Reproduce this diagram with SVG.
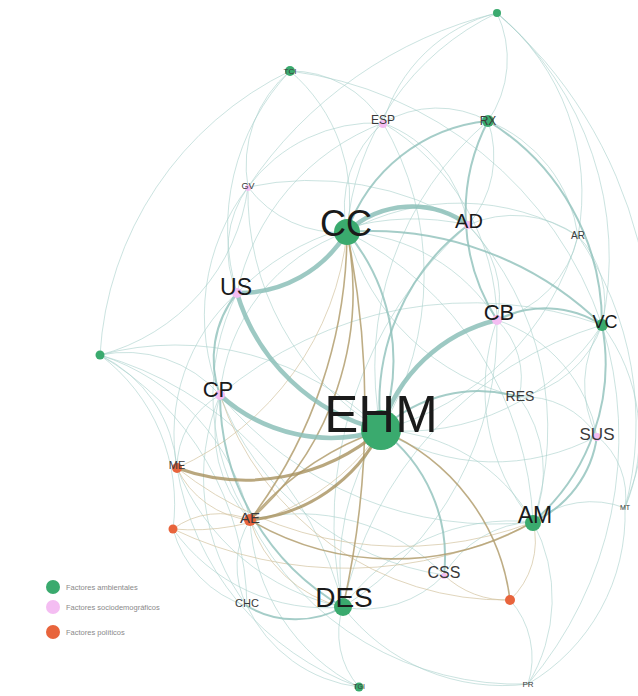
<svg xmlns="http://www.w3.org/2000/svg" width="638" height="696" viewBox="0 0 638 696">
<style>
.bg{fill:#ffffff}
path{fill:none;stroke-linecap:round}
.e{stroke:#a9d0cb;stroke-width:1;opacity:.6}
.em{stroke:#8fc0ba;stroke-width:2;opacity:.8}
.et{stroke:#8cbfb9;stroke-width:4.5;opacity:.85}
.bl{stroke:#d3c39f;stroke-width:1;opacity:.7}
.b{stroke:#b39f70;stroke-width:1.6;opacity:.85}
.bt{stroke:#a8915e;stroke-width:3;opacity:.8}
.g{fill:#3aaa6e}
.p{fill:#f4bdf2}
.o{fill:#e8643c}
text{font-family:"Liberation Sans",Arial,sans-serif;text-anchor:middle}
.L{fill:#1a1a1a}
.s{fill:#3a3a3a}
.lg{fill:#8a8a8a;font-size:7.5px;text-anchor:start}
</style>
<rect class="bg" width="638" height="696"/>
<g id="connectors">
<!-- thin teal -->
<path class="e" d="M100,355 A137,137 0 0 1 177,468"/>
<path class="e" d="M100,355 A223,223 0 0 1 250,520"/>
<path class="e" d="M100,355 A346,346 0 0 1 343,607"/>
<path class="e" d="M100,355 A295,295 0 0 1 247,606"/>
<path class="e" d="M100,355 A186,186 0 0 1 173,529"/>
<path class="e" d="M100,355 A290,290 0 0 1 381,430"/>
<path class="e" d="M100,355 A337,337 0 0 1 290,71"/>
<path class="e" d="M100,355 A125,125 0 0 1 220,395"/>
<path class="e" d="M100,355 A200,200 0 0 0 248,187"/>
<path class="e" d="M290,71 A107,107 0 0 1 383,123"/>
<path class="e" d="M290,71 A228,228 0 0 0 237,293"/>
<path class="e" d="M290,71 A170,170 0 0 1 347,232"/>
<path class="e" d="M290,71 A380,380 0 0 1 602,325"/>
<path class="e" d="M290,71 A123,123 0 0 0 248,187"/>
<path class="e" d="M497,13 A158,158 0 0 0 383,123"/>
<path class="e" d="M497,13 A263,263 0 0 0 347,232"/>
<path class="e" d="M497,13 A321,321 0 0 1 602,325"/>
<path class="e" d="M497,13 A233,233 0 0 1 578,236"/>
<path class="e" d="M497,13 A108,108 0 0 1 488,121"/>
<path class="e" d="M497,13 A450,450 0 0 1 625,508"/>
<path class="e" d="M497,13 A420,420 0 0 0 248,187"/>
<path class="e" d="M383,123 A111,111 0 0 0 347,232"/>
<path class="e" d="M383,123 A158,158 0 0 0 248,187"/>
<path class="e" d="M383,123 A105,105 0 0 1 488,121"/>
<path class="e" d="M383,123 A233,233 0 0 0 237,293"/>
<path class="e" d="M383,123 A133,133 0 0 1 468,225"/>
<path class="e" d="M383,123 A233,233 0 0 1 497,320"/>
<path class="e" d="M383,123 A300,300 0 0 1 381,430"/>
<path class="e" d="M248,187 A112,112 0 0 0 347,232"/>
<path class="e" d="M248,187 A107,107 0 0 0 237,293"/>
<path class="e" d="M248,187 A276,276 0 0 0 381,430"/>
<path class="e" d="M248,187 A210,210 0 0 0 220,395"/>
<path class="e" d="M248,187 A300,300 0 0 1 468,225"/>
<path class="e" d="M578,236 A111,111 0 0 0 468,225"/>
<path class="e" d="M578,236 A231,231 0 0 0 347,232"/>
<path class="e" d="M578,236 A111,111 0 0 1 497,320"/>
<path class="e" d="M578,236 A95,95 0 0 1 602,325"/>
<path class="e" d="M578,236 A145,145 0 0 0 488,121"/>
<path class="e" d="M578,236 A277,277 0 0 1 381,430"/>
<path class="e" d="M578,236 A330,330 0 0 1 625,508"/>
<path class="e" d="M602,325 A110,110 0 0 1 519,397"/>
<path class="e" d="M602,325 A111,111 0 0 0 597,436"/>
<path class="e" d="M602,325 A390,390 0 0 0 220,395"/>
<path class="e" d="M602,325 A185,185 0 0 1 625,508"/>
<path class="e" d="M602,325 A375,375 0 0 0 343,607"/>
<path class="e" d="M602,325 A380,380 0 0 1 528,684"/>
<path class="e" d="M597,436 A216,216 0 0 1 381,430"/>
<path class="e" d="M597,436 A86,86 0 0 0 519,397"/>
<path class="e" d="M597,436 A78,78 0 0 1 625,508"/>
<path class="e" d="M597,436 A150,150 0 0 0 497,320"/>
<path class="e" d="M625,508 A93,93 0 0 0 533,522"/>
<path class="e" d="M625,508 A196,196 0 0 1 528,684"/>
<path class="e" d="M528,684 A162,162 0 0 0 533,522"/>
<path class="e" d="M528,684 A201,201 0 0 1 343,607"/>
<path class="e" d="M528,684 A86,86 0 0 0 510,600"/>
<path class="e" d="M528,684 A300,300 0 0 1 250,520"/>
<path class="e" d="M359,687 A81,81 0 0 1 343,607"/>
<path class="e" d="M359,687 A142,142 0 0 1 247,606"/>
<path class="e" d="M359,687 A198,198 0 0 1 250,520"/>
<path class="e" d="M359,687 A281,281 0 0 1 177,468"/>
<path class="e" d="M444,575 A107,107 0 0 1 533,522"/>
<path class="e" d="M444,575 A110,110 0 0 1 343,607"/>
<path class="e" d="M444,575 A200,200 0 0 0 250,520"/>
<path class="e" d="M444,575 A284,284 0 0 1 220,395"/>
<path class="e" d="M519,397 A80,80 0 0 0 497,320"/>
<path class="e" d="M519,397 A126,126 0 0 1 533,522"/>
<path class="e" d="M519,397 A232,232 0 0 1 347,232"/>
<path class="e" d="M497,320 A99,99 0 0 0 468,225"/>
<path class="e" d="M497,320 A206,206 0 0 0 533,522"/>
<path class="e" d="M497,320 A332,332 0 0 1 343,607"/>
<path class="e" d="M468,225 A246,246 0 0 0 237,293"/>
<path class="e" d="M468,225 A397,397 0 0 0 343,607"/>
<path class="e" d="M468,225 A300,300 0 0 1 533,522"/>
<path class="e" d="M237,293 A228,228 0 0 0 250,520"/>
<path class="e" d="M237,293 A189,189 0 0 0 177,468"/>
<path class="e" d="M220,395 A83,83 0 0 0 177,468"/>
<path class="e" d="M220,395 A129,129 0 0 0 250,520"/>
<path class="e" d="M220,395 A212,212 0 0 0 247,606"/>
<path class="e" d="M220,395 A356,356 0 0 0 533,522"/>
<path class="e" d="M177,468 A227,227 0 0 0 343,607"/>
<path class="e" d="M173,529 A186,186 0 0 0 343,607"/>
<path class="e" d="M173,529 A109,109 0 0 0 247,606"/>
<path class="e" d="M250,520 A86,86 0 0 0 247,606"/>
<path class="e" d="M533,522 A207,207 0 0 0 343,607"/>
<path class="e" d="M381,430 A180,180 0 0 1 533,522"/>
<path class="e" d="M347,232 A187,187 0 0 1 497,320"/>
<path class="e" d="M347,232 A190,190 0 0 0 220,395"/>
<path class="e" d="M347,232 A341,341 0 0 1 533,522"/>
<path class="e" d="M488,121 A323,323 0 0 0 381,430"/>
<path class="e" d="M488,121 A105,105 0 0 1 468,225"/>
<path class="e" d="M381,430 A235,235 0 0 0 602,325"/>
<path class="e" d="M381,430 A250,250 0 0 0 343,607"/>
<!-- brown thin -->
<path class="bl" d="M173,529 A77,77 0 0 1 250,520"/>
<path class="bl" d="M177,468 A91,91 0 0 0 250,520"/>
<path class="bl" d="M381,430 A227,227 0 0 1 173,529"/>
<path class="bl" d="M347,232 A291,291 0 0 1 177,468"/>
<path class="bl" d="M510,600 A80,80 0 0 0 533,522"/>
<path class="bl" d="M510,600 A90,90 0 0 1 444,575"/>
<path class="bl" d="M250,520 A128,128 0 0 0 343,607"/>
<path class="bl" d="M177,468 A362,362 0 0 0 533,522"/>
<path class="bl" d="M173,529 A400,400 0 0 0 533,522"/>
<path class="bl" d="M220,395 A300,300 0 0 0 510,600"/>
<!-- medium teal -->
<path class="em" d="M381,430 A142,142 0 0 1 519,397"/>
<path class="em" d="M347,232 A201,201 0 0 1 381,430"/>
<path class="em" d="M488,121 A166,166 0 0 0 347,232"/>
<path class="em" d="M488,121 A199,199 0 0 0 497,320"/>
<path class="em" d="M488,121 A238,238 0 0 1 602,325"/>
<path class="em" d="M602,325 A209,209 0 0 1 533,522"/>
<path class="em" d="M602,325 A105,105 0 0 0 497,320"/>
<path class="em" d="M597,436 A110,110 0 0 1 533,522"/>
<path class="em" d="M237,293 A105,105 0 0 0 220,395"/>
<path class="em" d="M247,606 A96,96 0 0 0 343,607"/>
<path class="em" d="M381,430 A158,158 0 0 1 444,575"/>
<path class="em" d="M220,395 A246,246 0 0 0 343,607"/>
<path class="em" d="M381,430 A224,224 0 0 1 468,225"/>
<path class="em" d="M347,232 A330,330 0 0 1 602,325"/>
<!-- brown -->
<path class="b" d="M347,232 A304,304 0 0 1 250,520"/>
<path class="b" d="M347,232 A480,480 0 0 1 250,520"/>
<path class="b" d="M347,232 A900,900 0 0 1 343,607"/>
<path class="b" d="M381,430 A300,300 0 0 0 250,520"/>
<path class="b" d="M381,430 A213,213 0 0 1 510,600"/>
<path class="b" d="M250,520 A283,283 0 0 0 533,522"/>
<path class="bt" d="M381,430 A206,206 0 0 1 177,468"/>
<path class="bt" d="M381,430 A164,164 0 0 1 250,520"/>
<!-- thick teal -->
<path class="et" d="M237,293 A200,200 0 0 0 381,430"/>
<path class="et" d="M220,395 A165,165 0 0 0 381,430"/>
<path class="et" d="M237,293 A126,126 0 0 0 347,232"/>
<path class="et" d="M347,232 A95,95 0 0 1 468,225"/>
<path class="et" d="M381,430 A160,160 0 0 1 497,320"/>
</g>
<g id="node-TCI"><circle class="g" cx="290" cy="71" r="5"/><text class="s" x="290" y="74" font-size="8">TCI</text></g>
<g id="node-TR"><circle class="g" cx="497" cy="13" r="4"/></g>
<g id="node-L"><circle class="g" cx="100" cy="355" r="4.5"/></g>
<g id="node-B"><circle class="g" cx="359" cy="687" r="4.5"/><text class="s" x="359" y="689" font-size="7">TGI</text></g>
<g id="node-ESP"><circle class="p" cx="383" cy="124" r="4"/><text class="s" x="383" y="124" font-size="12">ESP</text></g>
<g id="node-RX"><circle class="g" cx="488" cy="121" r="6"/><text class="s" x="488" y="125" font-size="12">RX</text></g>
<g id="node-GV"><circle class="p" cx="248" cy="188" r="3"/><text class="s" x="248" y="189" font-size="9">GV</text></g>
<g id="node-AR"><text class="s" x="578" y="239" font-size="10">AR</text></g>
<g id="node-AD"><circle class="p" cx="468" cy="225" r="4"/><text class="L" x="469" y="228" font-size="20">AD</text></g>
<g id="node-CC"><circle class="g" cx="347" cy="232" r="13"/><text class="L" x="346" y="236" font-size="36">CC</text></g>
<g id="node-US"><circle class="p" cx="237" cy="293" r="5"/><text class="L" x="236" y="295" font-size="23">US</text></g>
<g id="node-CB"><circle class="p" cx="497" cy="320" r="5"/><text class="L" x="499" y="320" font-size="22">CB</text></g>
<g id="node-VC"><circle class="g" cx="602" cy="325" r="6"/><text class="L" x="605" y="328" font-size="18">VC</text></g>
<g id="node-CP"><circle class="p" cx="220" cy="395" r="5"/><text class="L" x="218" y="397" font-size="22">CP</text></g>
<g id="node-EHM"><circle class="g" cx="381" cy="430" r="20"/><text class="L" x="381" y="432" font-size="51">EHM</text></g>
<g id="node-RES"><text class="s" x="520" y="401" font-size="14">RES</text></g>
<g id="node-SUS"><circle class="p" cx="597" cy="437" r="4"/><text class="s" x="597" y="440" font-size="17">SUS</text></g>
<g id="node-ME"><circle class="o" cx="177" cy="468" r="5"/><text class="s" x="177" y="469" font-size="11">ME</text></g>
<g id="node-AE"><circle class="o" cx="250" cy="520" r="6"/><text class="s" x="250" y="523" font-size="15">AE</text></g>
<g id="node-OS"><circle class="o" cx="173" cy="529" r="4.5"/></g>
<g id="node-MT"><text class="s" x="625" y="510" font-size="7">MT</text></g>
<g id="node-AM"><circle class="g" cx="533" cy="523" r="8"/><text class="L" x="535" y="523" font-size="23">AM</text></g>
<g id="node-CSS"><circle class="p" cx="444" cy="576" r="3"/><text class="s" x="444" y="578" font-size="16">CSS</text></g>
<g id="node-OB"><circle class="o" cx="510" cy="600" r="5"/></g>
<g id="node-DES"><circle class="g" cx="343" cy="607" r="9"/><text class="L" x="344" y="607" font-size="28">DES</text></g>
<g id="node-CHC"><text class="s" x="247" y="607" font-size="11">CHC</text></g>
<g id="node-PR"><text class="s" x="528" y="687" font-size="8">PR</text></g>
<g id="legend">
<circle class="g" cx="53" cy="587" r="7"/><text class="lg" x="66" y="590">Factores ambientales</text>
<circle class="p" cx="53" cy="607" r="7"/><text class="lg" x="66" y="610">Factores sociodemográficos</text>
<circle class="o" cx="53" cy="632" r="7"/><text class="lg" x="66" y="635">Factores políticos</text>
</g>
</svg>
